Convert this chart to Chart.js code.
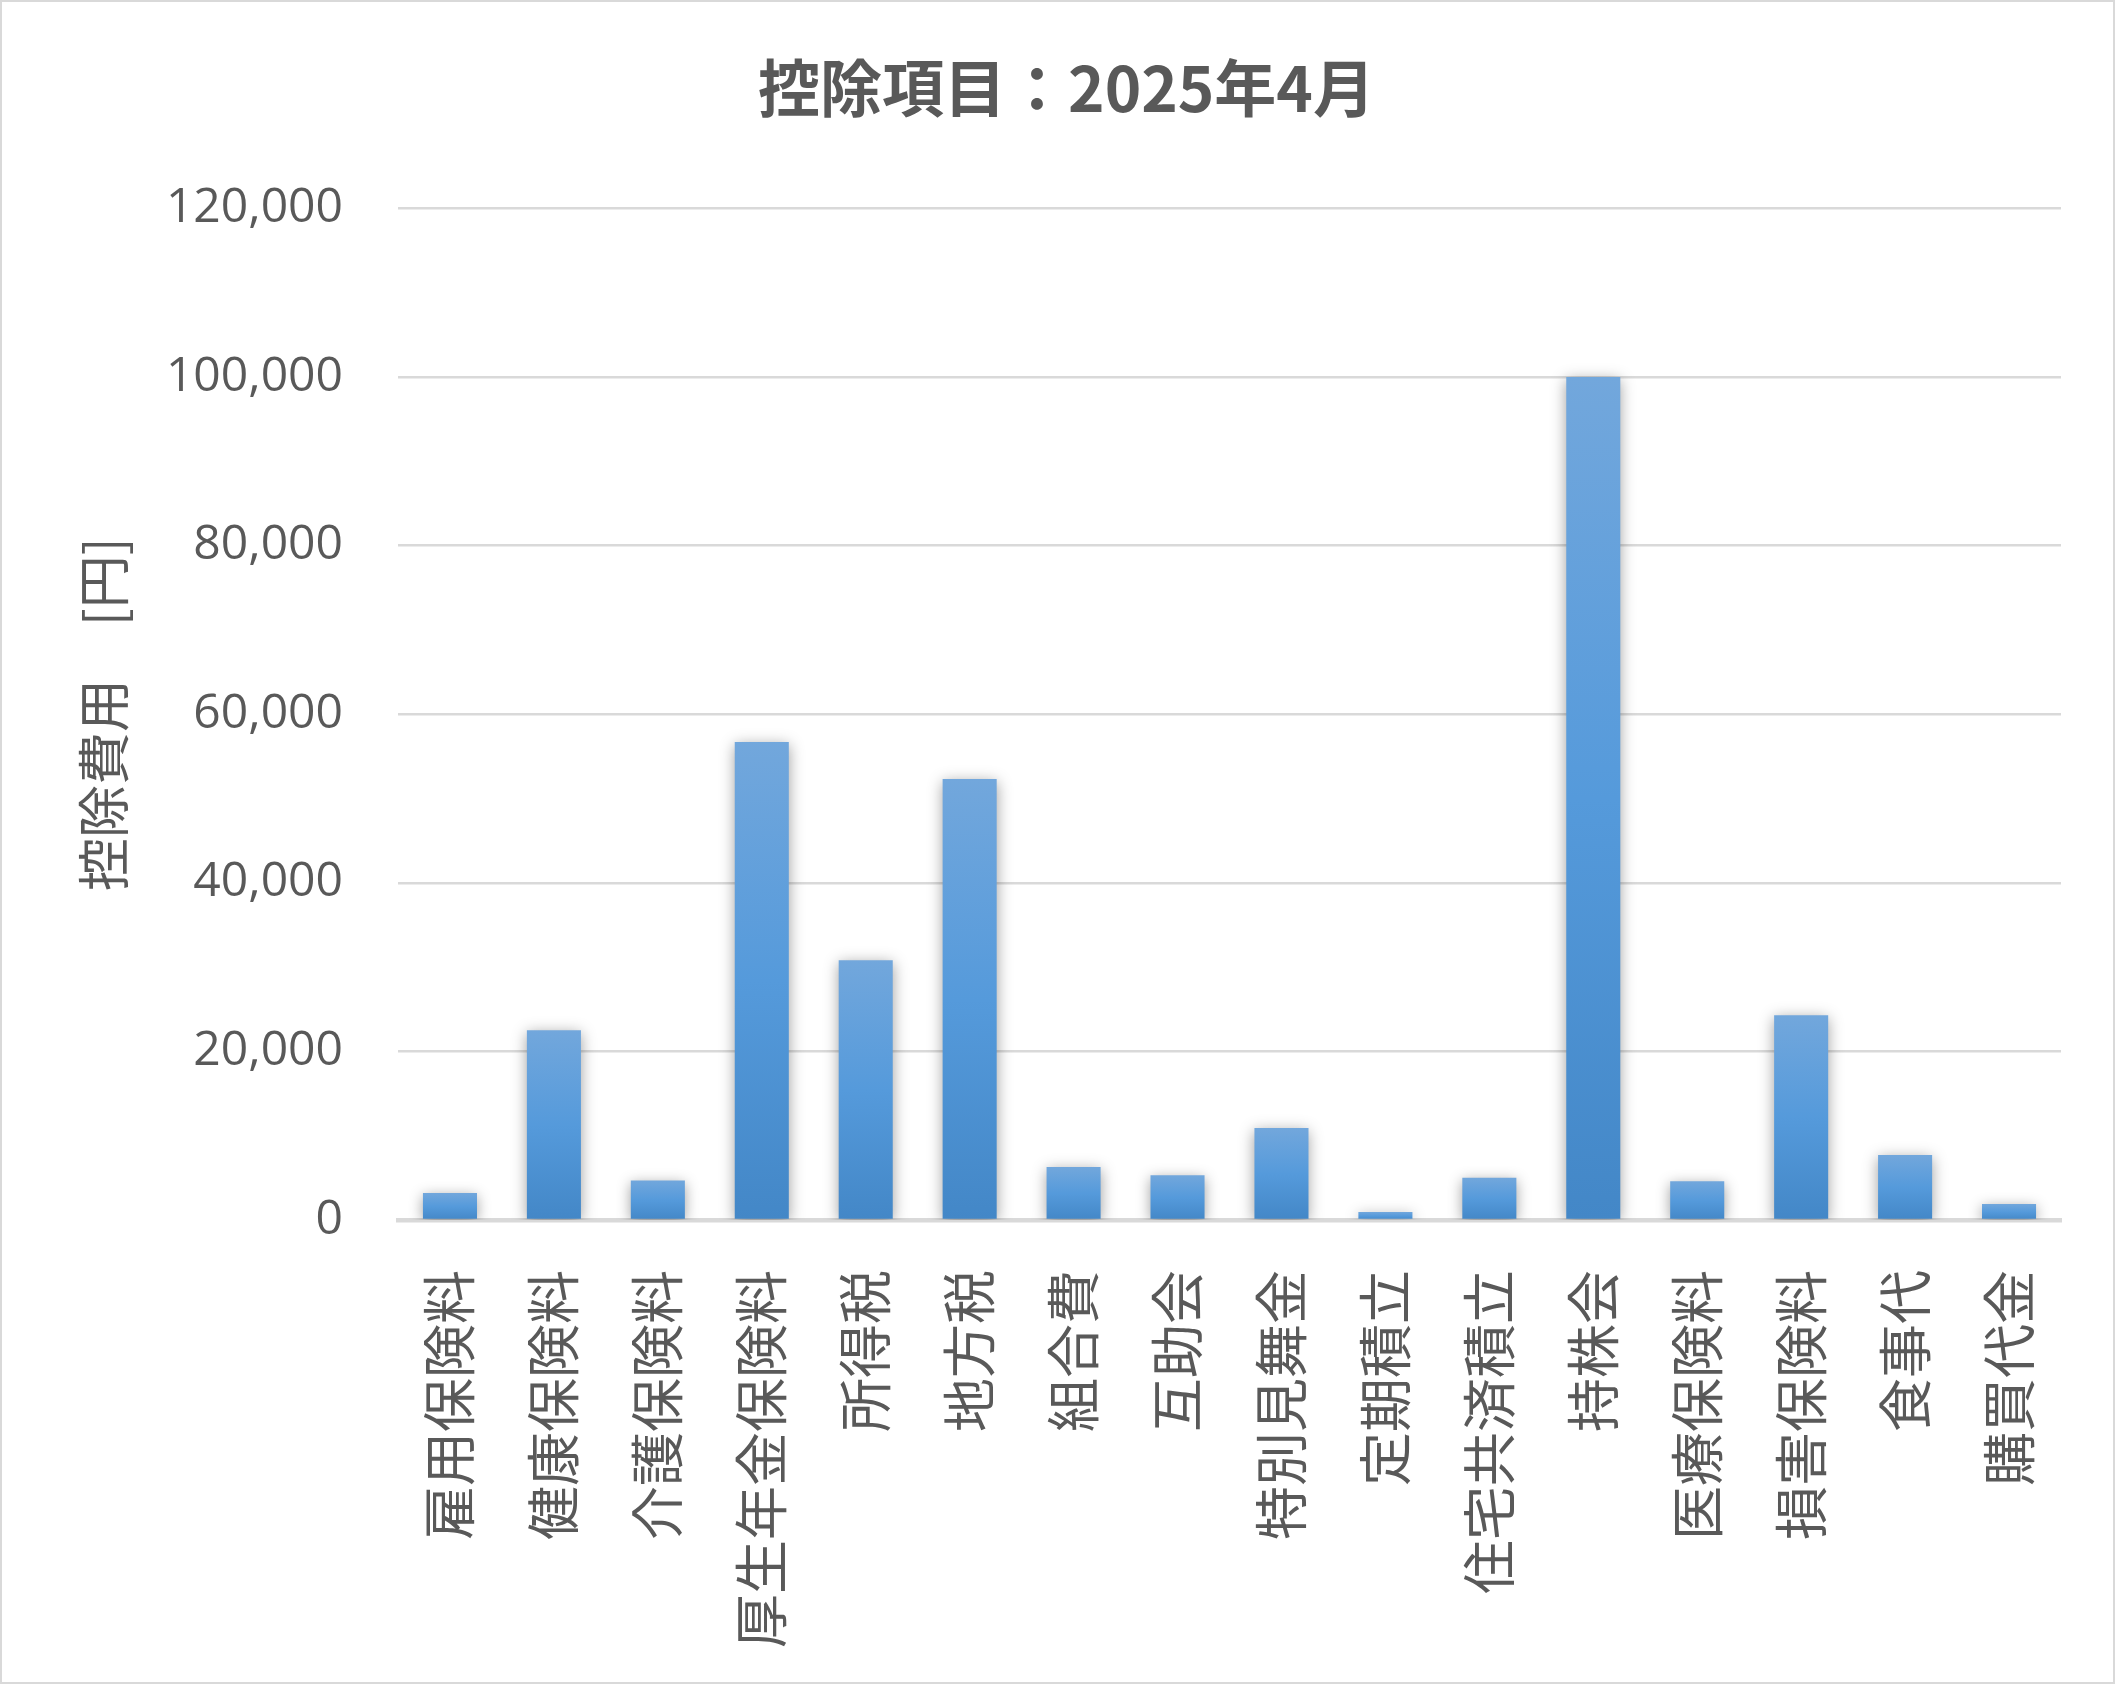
<!DOCTYPE html>
<html lang="ja">
<head>
<meta charset="utf-8">
<title>控除項目：2025年4月</title>
<script src="https://cdn.jsdelivr.net/npm/chart.js@4.4.1/dist/chart.umd.min.js"></script>
<style>
  html, body { margin: 0; padding: 0; background: #ffffff; }
  #wrap {
    width: 2115px;
    height: 1684px;
    box-sizing: border-box;
    border: 2px solid #d9d9d9;
    background: #ffffff;
  }
</style>
</head>
<body>
<div id="wrap"><canvas id="deductChart"></canvas></div>
<script>
// 控除項目（円）
var categories = ['雇用保険料', '健康保険料', '介護保険料', '厚生年金保険料', '所得税', '地方税',
    '組合費', '互助会', '特別見舞金', '定期積立', '住宅共済積立', '持株会',
    '医療保険料', '損害保険料', '食事代', '購買代金'];
var amounts = [3200, 22500, 4700, 56700, 30800, 52300,
    6300, 5300, 10900, 950, 5000, 100000,
    4600, 24300, 7700, 1900];
var yTicks = [0, 20000, 40000, 60000, 80000, 100000, 120000];

var textColor = '#595959';
var gridColor = '#d9d9d9';

function barGradient(context) {
    var chart = context.chart;
    if (!chart.chartArea) return '#5b9bd5';
    var y = chart.scales.y;
    var top = y.getPixelForValue(context.raw);
    var base = y.getPixelForValue(0);
    var g = chart.ctx.createLinearGradient(0, top, 0, base);
    g.addColorStop(0, '#72a7dc');
    g.addColorStop(0.5, '#559adb');
    g.addColorStop(1, '#4387c7');
    return g;
}

const barShadow = {
    id: 'barShadow',
    beforeDatasetsDraw(chart) {
        const ctx = chart.ctx;
        ctx.save();
        ctx.shadowColor = 'rgba(0, 0, 0, 0.38)';
        ctx.shadowBlur = 14;
        ctx.shadowOffsetX = 0;
        ctx.shadowOffsetY = 3;
    },
    afterDatasetsDraw(chart) {
        chart.ctx.restore();
    }
};

const config = {
    type: 'bar',
    data: {
        labels: categories,
        datasets: [
            {
                label: '控除費用',
                data: amounts,
                backgroundColor: barGradient,
                borderWidth: 0,
                barPercentage: 0.52,
                categoryPercentage: 1.0,
            }
        ],
    },
    options: {
        responsive: true,
        maintainAspectRatio: false,
        animation: false,
        layout: {
            padding: { left: 70, right: 52, top: 0, bottom: 0 }
        },
        plugins: {
            legend: { display: false },
            tooltip: { enabled: false },
            title: {
                display: true,
                text: '控除項目：2025年4月',
                color: textColor,
                font: { family: "'Noto Sans CJK JP', sans-serif", size: 62, weight: 'bold', lineHeight: 1.2 },
                padding: { top: 49, bottom: 83 },
            },
        },
        scales: {
            x: {
                z: 1,
                grid: { display: false, drawTicks: false },
                border: { display: true, color: gridColor, width: 4.5 },
                ticks: {
                    color: textColor,
                    font: { family: "'Noto Sans CJK JP', sans-serif", size: 54 },
                    padding: 50,
                    maxRotation: 90,
                    minRotation: 90,
                    autoSkip: false,
                },
                afterFit: function (scale) {
                    scale.height = 462;
                    scale.paddingLeft = 0;
                    scale.paddingRight = 0;
                },
            },
            y: {
                min: 0,
                max: 120000,
                afterBuildTicks: function (scale) {
                    scale.ticks = yTicks.map(function (v) { return { value: v }; });
                },
                grid: { color: gridColor, lineWidth: 2.5, drawTicks: false },
                border: { display: false },
                ticks: {
                    color: textColor,
                    font: { family: "'Open Sans', 'Noto Sans CJK JP', sans-serif", size: 48 },
                    padding: 55,
                    callback: function (v) { return v.toLocaleString('en-US'); },
                },
                title: {
                    display: true,
                    text: '控除費用　[円]',
                    color: textColor,
                    font: { family: "'Noto Sans CJK JP', sans-serif", size: 53, lineHeight: 1.2 },
                    padding: { top: 0, bottom: 0 },
                },
                afterFit: function (scale) { scale.width = 326; },
            },
        },
    },
    plugins: [barShadow],
};

const deductChart = new Chart(document.getElementById('deductChart'), config);
</script>
</body>
</html>
